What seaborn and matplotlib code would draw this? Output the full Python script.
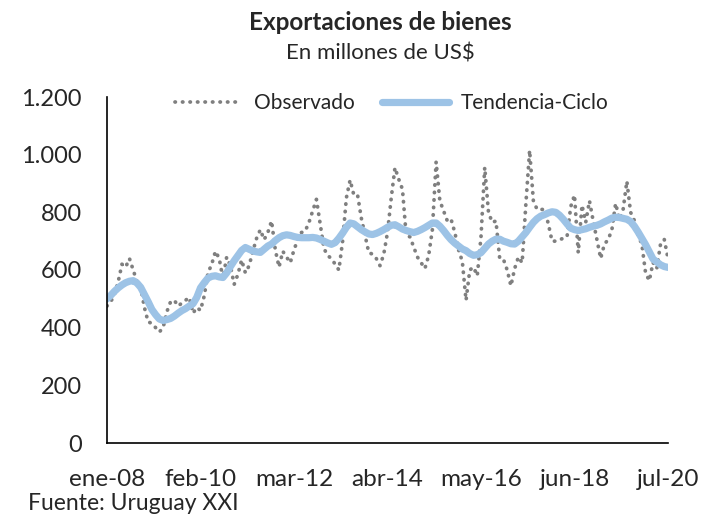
import pandas as pd
import numpy as np
import matplotlib
matplotlib.use("Agg")
import matplotlib.pyplot as plt
import seaborn as sns

# Monthly goods exports, millions of US$ (ene-08 .. jul-20)
obs_2008 = [475, 490, 515, 560, 620, 610, 640, 600, 560, 540, 470, 420]
obs_2009 = [415, 400, 385, 400, 455, 490, 495, 475, 485, 495, 505, 450]
obs_2010 = [470, 460, 510, 590, 620, 665, 640, 570, 645, 615, 550, 585]
obs_2011 = [635, 590, 615, 665, 710, 740, 705, 730, 770, 670, 610, 665]
obs_2012 = [645, 625, 670, 705, 730, 735, 765, 805, 845, 760, 675, 650]
obs_2013 = [640, 620, 600, 700, 850, 912, 860, 860, 780, 720, 660, 655]
obs_2014 = [640, 615, 655, 730, 850, 955, 915, 880, 720, 715, 680, 645]
obs_2015 = [625, 605, 650, 740, 975, 840, 805, 770, 776, 730, 670, 630]
obs_2016 = [495, 600, 610, 580, 715, 956, 800, 765, 770, 640, 637, 600]
obs_2017 = [545, 605, 645, 625, 830, 1015, 840, 810, 810, 810, 760, 700]
obs_2018 = [700, 705, 710, 715, 820, 860, 660, 825, 765, 840, 770, 705]
obs_2019 = [640, 690, 705, 740, 831, 776, 810, 908, 800, 772, 720, 690]
obs_2020 = [590, 563, 626, 605, 690, 706, 640]

trend_2008 = [500, 512, 526, 538, 548, 556, 561, 563, 555, 540, 515, 490]
trend_2009 = [463, 445, 430, 425, 428, 432, 440, 450, 459, 466, 475, 483]
trend_2010 = [505, 538, 556, 572, 578, 580, 576, 574, 590, 612, 632, 650]
trend_2011 = [668, 678, 672, 666, 663, 661, 672, 683, 690, 702, 712, 719]
trend_2012 = [722, 720, 716, 713, 712, 712, 712, 713, 711, 706, 700, 694]
trend_2013 = [689, 695, 710, 728, 748, 763, 760, 750, 740, 732, 725, 723]
trend_2014 = [727, 733, 740, 748, 755, 757, 750, 742, 737, 733, 730, 734]
trend_2015 = [740, 747, 755, 763, 763, 752, 737, 720, 705, 693, 683, 673]
trend_2016 = [667, 657, 651, 653, 660, 675, 690, 700, 707, 707, 700, 696]
trend_2017 = [691, 690, 700, 715, 730, 748, 765, 778, 787, 792, 798, 802]
trend_2018 = [800, 790, 776, 760, 745, 740, 737, 740, 743, 748, 752, 755]
trend_2019 = [760, 767, 773, 780, 783, 782, 779, 776, 768, 752, 732, 710]
trend_2020 = [688, 663, 638, 628, 618, 612, 609]

tick_labels = ["ene-08", "feb-10", "mar-12", "abr-14", "may-16", "jun-18", "jul-20"]

observado = (obs_2008 + obs_2009 + obs_2010 + obs_2011 + obs_2012 + obs_2013 + obs_2014
             + obs_2015 + obs_2016 + obs_2017 + obs_2018 + obs_2019 + obs_2020)
tendencia = (trend_2008 + trend_2009 + trend_2010 + trend_2011 + trend_2012 + trend_2013 + trend_2014
             + trend_2015 + trend_2016 + trend_2017 + trend_2018 + trend_2019 + trend_2020)

df = pd.DataFrame({"mes": np.arange(len(observado)), "Observado": observado, "Tendencia-Ciclo": tendencia})

sns.set_theme(style="white")
plt.rcParams["font.family"] = ["Lato", "DejaVu Sans"]

fig = plt.figure(figsize=(7.11, 5.14), dpi=100)
ax = fig.add_axes([107 / 711, 71 / 514, 561 / 711, 346 / 514])

# observed series as round dots, trend as a thick light blue line
sns.lineplot(data=df, x="mes", y="Observado", ax=ax, color="#7f7f7f", linewidth=2.7,
             linestyle=(0, (0.1, 1.9)), dash_capstyle="round", label="Observado")
sns.lineplot(data=df, x="mes", y="Tendencia-Ciclo", ax=ax, color="#9dc3e6", linewidth=5.2,
             solid_capstyle="round", label="Tendencia-Ciclo")

ax.set_xlim(0, len(observado) - 1)
ax.set_ylim(0, 1200)
ax.set_xticks(np.arange(0, len(observado), 25))
ax.set_xticklabels(tick_labels)
ax.set_yticks(np.arange(0, 1201, 200))
ax.set_yticklabels([f"{v:,}".replace(",", ".") for v in range(0, 1201, 200)])
ax.tick_params(axis="x", length=0, pad=19, labelsize=17.5)
ax.tick_params(axis="y", length=0, pad=18, labelsize=17)
ax.set_xlabel("")
ax.set_ylabel("")

for side in ["top", "right"]:
    ax.spines[side].set_visible(False)
for side in ["left", "bottom"]:
    ax.spines[side].set_color("#000000")
    ax.spines[side].set_linewidth(1.2)

ax.legend(loc="center left", bbox_to_anchor=(175 / 711, 1 - 103 / 514), bbox_transform=fig.transFigure,
          ncol=2, frameon=False, fontsize=15, handlelength=3.2, columnspacing=1.3,
          handletextpad=0.6, borderpad=0, borderaxespad=0)

fig.text(380 / 711, 1 - 22 / 514, "Exportaciones de bienes", ha="center", va="center",
         fontsize=17.5, fontweight="bold")
fig.text(380 / 711, 1 - 54 / 514, "En millones de US$", ha="center", va="center", fontsize=16)
fig.text(28 / 711, 1 - 503 / 514, "Fuente: Uruguay XXI", ha="left", va="center", fontsize=16.5)

fig.savefig("out.png", dpi=100)
